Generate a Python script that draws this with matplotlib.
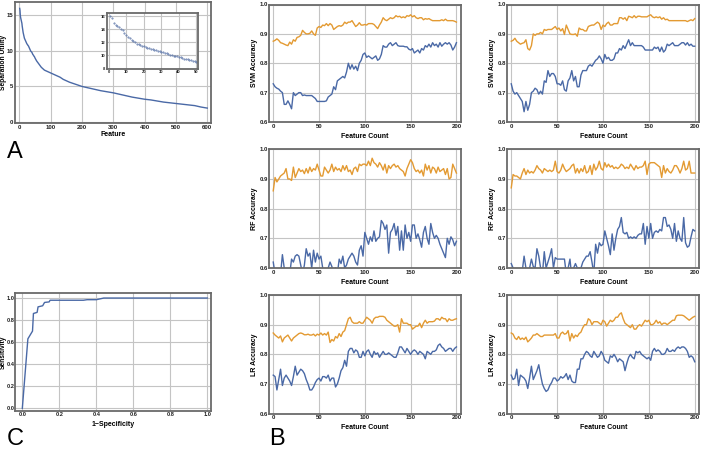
import matplotlib
matplotlib.use("Agg")
import matplotlib.pyplot as plt
import numpy as np

plt.rcParams['font.family'] = ['Liberation Sans', 'DejaVu Sans']

BLUE = "#4a69a6"
ORANGE = "#e39a32"
FRAME = "#6a6a6a"
GRID = "#c4c4c4"

# ---- panel A: separation utility per ranked feature
feat_top = list(range(1, 51))
util_top = [16.0, 15.7, 15.0, 14.7, 14.5, 14.3, 14.1, 13.9, 13.5, 13.2,
            12.9, 12.6, 12.4, 12.2, 12.0, 11.8, 11.7, 11.6, 11.5, 11.4,
            11.3, 11.2, 11.1, 11.0, 10.95, 10.9, 10.8, 10.75, 10.7, 10.6,
            10.5, 10.4, 10.3, 10.2, 10.1, 10.0, 9.95, 9.9, 9.85, 9.8,
            9.7, 9.6, 9.5, 9.45, 9.4, 9.3, 9.25, 9.2, 9.1, 9.0]
feat_rest = [55, 60, 65, 70, 75, 80, 90, 100, 110, 120, 130, 140, 150, 160,
             170, 180, 190, 200, 220, 240, 260, 280, 300, 320, 340, 360, 380,
             400, 420, 440, 460, 480, 500, 520, 540, 560, 580, 600]
util_rest = [8.6, 8.3, 8.0, 7.7, 7.5, 7.3, 7.1, 6.9, 6.7, 6.5, 6.3, 6.0, 5.8,
             5.6, 5.45, 5.3, 5.15, 5.0, 4.8, 4.6, 4.4, 4.25, 4.1, 3.9, 3.7,
             3.5, 3.35, 3.2, 3.1, 2.95, 2.8, 2.7, 2.6, 2.5, 2.4, 2.3, 2.1, 1.95]

# ---- panel C: ROC curve
fpr = [0.0, 0.03, 0.055, 0.06, 0.08, 0.085, 0.11, 0.12, 0.145, 0.15, 0.33,
       0.35, 0.40, 0.44, 1.0]
tpr = [0.0, 0.63, 0.70, 0.86, 0.87, 0.92, 0.93, 0.96, 0.965, 0.98, 0.98,
       0.985, 0.985, 1.0, 1.0]

# ---- panel B: accuracy vs feature count
fcount = list(range(0, 201, 2))

svm1_o = [0.875, 0.878, 0.883, 0.878, 0.87, 0.868, 0.865, 0.862, 0.86, 0.872,
          0.865, 0.88, 0.875, 0.888, 0.89, 0.895, 0.912, 0.905, 0.9, 0.9,
          0.902, 0.91, 0.9, 0.895, 0.92, 0.925, 0.922, 0.93, 0.928, 0.935,
          0.928, 0.935, 0.93, 0.915, 0.92, 0.925, 0.928, 0.926, 0.93, 0.94,
          0.935, 0.94, 0.94, 0.945, 0.935, 0.925, 0.93, 0.938, 0.93, 0.93,
          0.932, 0.93, 0.935, 0.935, 0.935, 0.932, 0.925, 0.918, 0.93, 0.94,
          0.955, 0.948, 0.945, 0.95, 0.955, 0.952, 0.955, 0.962, 0.958, 0.96,
          0.955, 0.958, 0.955, 0.962, 0.96, 0.965, 0.958, 0.962, 0.955, 0.952,
          0.955, 0.955, 0.948, 0.952, 0.95, 0.952, 0.948, 0.945, 0.945, 0.945,
          0.945, 0.945, 0.948, 0.945, 0.95, 0.945, 0.945, 0.945, 0.945, 0.943,
          0.94]
svm1_b = [0.73, 0.72, 0.715, 0.712, 0.705, 0.7, 0.66, 0.66, 0.672, 0.66,
          0.645, 0.7, 0.69, 0.695, 0.7, 0.7, 0.69, 0.692, 0.69, 0.69,
          0.69, 0.69, 0.685, 0.68, 0.67, 0.67, 0.67, 0.67, 0.67, 0.672,
          0.685, 0.69, 0.695, 0.72, 0.71, 0.74, 0.745, 0.75, 0.755, 0.75,
          0.77, 0.8, 0.78, 0.795, 0.78, 0.79, 0.775, 0.8, 0.81, 0.83,
          0.835, 0.82, 0.825, 0.82, 0.815, 0.82, 0.825, 0.81, 0.815, 0.83,
          0.86, 0.855, 0.855, 0.865, 0.87, 0.86, 0.865, 0.87, 0.86, 0.858,
          0.858, 0.858, 0.856, 0.856, 0.848, 0.845, 0.85, 0.835, 0.84, 0.845,
          0.835, 0.85, 0.845, 0.86, 0.855, 0.865, 0.855, 0.87, 0.86, 0.865,
          0.855, 0.87, 0.858, 0.865, 0.87, 0.865, 0.87, 0.862, 0.845, 0.855,
          0.87]
svm2_o = [0.875, 0.878, 0.885, 0.875, 0.87, 0.865, 0.868, 0.87, 0.88, 0.85,
          0.845, 0.86, 0.9, 0.895, 0.9, 0.9, 0.905, 0.9, 0.915, 0.912,
          0.915, 0.915, 0.915, 0.92, 0.925, 0.915, 0.92, 0.91, 0.918, 0.898,
          0.93, 0.915, 0.9, 0.898, 0.898, 0.9, 0.892, 0.92, 0.915, 0.915,
          0.91, 0.91, 0.925, 0.928, 0.93, 0.93, 0.935, 0.94, 0.935, 0.915,
          0.93, 0.925, 0.935, 0.94, 0.93, 0.93, 0.935, 0.935, 0.935, 0.955,
          0.955, 0.95, 0.955, 0.945, 0.96, 0.958, 0.955, 0.962, 0.955, 0.96,
          0.96, 0.958, 0.958, 0.958, 0.958, 0.962, 0.965, 0.958, 0.955, 0.958,
          0.955, 0.958, 0.95, 0.955, 0.948, 0.95, 0.945, 0.945, 0.945, 0.945,
          0.945, 0.945, 0.945, 0.945, 0.945, 0.945, 0.942, 0.945, 0.948, 0.945,
          0.952]
svm2_b = [0.73, 0.705, 0.695, 0.7, 0.69, 0.68, 0.67, 0.635, 0.67, 0.64,
          0.66, 0.7, 0.705, 0.715, 0.71, 0.695, 0.705, 0.695, 0.74, 0.735,
          0.775, 0.755, 0.765, 0.765, 0.755, 0.73, 0.73, 0.725, 0.74, 0.71,
          0.705, 0.74, 0.75, 0.775, 0.74, 0.755, 0.72, 0.72, 0.76, 0.775,
          0.775, 0.775, 0.79, 0.795, 0.79, 0.8, 0.81, 0.815, 0.825, 0.815,
          0.8, 0.83, 0.815, 0.82, 0.81, 0.81, 0.815, 0.835, 0.835, 0.85,
          0.845, 0.86, 0.85, 0.865, 0.88, 0.86, 0.87, 0.86, 0.86, 0.86,
          0.86, 0.86, 0.855, 0.845, 0.845, 0.845, 0.845, 0.845, 0.855, 0.85,
          0.855, 0.84, 0.855, 0.838, 0.845, 0.865, 0.86, 0.865, 0.87, 0.86,
          0.86, 0.86, 0.865, 0.87, 0.87, 0.862, 0.87, 0.86, 0.865, 0.858,
          0.858]
rf1_o = [0.86, 0.905, 0.89, 0.9, 0.91, 0.915, 0.92, 0.935, 0.9, 0.9,
         0.895, 0.94, 0.905, 0.92, 0.935, 0.925, 0.93, 0.918, 0.935, 0.92,
         0.94, 0.925, 0.935, 0.93, 0.95, 0.93, 0.91, 0.91, 0.94, 0.93,
         0.92, 0.93, 0.95, 0.925, 0.94, 0.93, 0.935, 0.925, 0.945, 0.93,
         0.945, 0.925, 0.93, 0.915, 0.935, 0.94, 0.925, 0.95, 0.945, 0.95,
         0.95, 0.945, 0.96, 0.945, 0.97, 0.955, 0.95, 0.94, 0.955, 0.945,
         0.93, 0.95, 0.92, 0.945, 0.935, 0.945, 0.95, 0.94, 0.945, 0.935,
         0.93, 0.925, 0.91, 0.935, 0.95, 0.965, 0.955, 0.935, 0.925, 0.93,
         0.92, 0.93, 0.91, 0.95, 0.93, 0.945, 0.92, 0.94, 0.935, 0.92,
         0.94, 0.925, 0.93, 0.935, 0.915, 0.935, 0.9, 0.905, 0.95, 0.935,
         0.92]
rf1_b = [0.62, 0.58, 0.58, 0.57, 0.58, 0.645, 0.6, 0.57, 0.58, 0.58,
         0.63, 0.62, 0.64, 0.645, 0.64, 0.61, 0.58, 0.61, 0.665, 0.64,
         0.65, 0.6, 0.66, 0.62, 0.65, 0.63, 0.64, 0.6, 0.58, 0.57,
         0.6, 0.62, 0.605, 0.58, 0.6, 0.58, 0.63, 0.615, 0.64, 0.6,
         0.61, 0.63, 0.64, 0.65, 0.64, 0.62, 0.61, 0.66, 0.675, 0.64,
         0.72, 0.7, 0.68, 0.705, 0.69, 0.725, 0.69, 0.7, 0.705, 0.76,
         0.75, 0.73, 0.745, 0.65, 0.72, 0.73, 0.75, 0.71, 0.74, 0.66,
         0.725, 0.66, 0.745, 0.7, 0.72, 0.69, 0.745, 0.745, 0.7, 0.715,
         0.695, 0.67, 0.72, 0.74, 0.7, 0.68, 0.75, 0.72, 0.7, 0.71,
         0.7, 0.68, 0.665, 0.65, 0.635, 0.7, 0.68, 0.705, 0.695, 0.675,
         0.69]
rf2_o = [0.87, 0.915, 0.91, 0.91, 0.905, 0.9, 0.92, 0.935, 0.915, 0.93,
         0.92, 0.925, 0.92, 0.93, 0.945, 0.935, 0.93, 0.92, 0.935, 0.93,
         0.925, 0.93, 0.925, 0.93, 0.96, 0.925, 0.92, 0.93, 0.95, 0.935,
         0.925, 0.93, 0.935, 0.945, 0.95, 0.92, 0.935, 0.92, 0.935, 0.925,
         0.945, 0.92, 0.925, 0.945, 0.915, 0.95, 0.93, 0.94, 0.96, 0.935,
         0.93, 0.955, 0.94, 0.95, 0.94, 0.945, 0.935, 0.94, 0.935, 0.94,
         0.95, 0.945, 0.935, 0.94, 0.935, 0.95, 0.94, 0.93, 0.945, 0.935,
         0.94, 0.94, 0.945, 0.96, 0.915, 0.95, 0.955, 0.955, 0.955, 0.95,
         0.945, 0.94, 0.905, 0.945, 0.92, 0.935, 0.925, 0.92, 0.93, 0.945,
         0.945, 0.935, 0.92, 0.935, 0.96, 0.93, 0.935, 0.96, 0.92, 0.92,
         0.92]
rf2_b = [0.615, 0.6, 0.58, 0.58, 0.57, 0.58, 0.59, 0.64, 0.6, 0.59,
         0.6, 0.63, 0.605, 0.6, 0.665, 0.64, 0.6, 0.58, 0.655, 0.6,
         0.62, 0.64, 0.665, 0.6, 0.635, 0.63, 0.63, 0.63, 0.63, 0.63,
         0.58, 0.6, 0.63, 0.57, 0.6, 0.615, 0.6, 0.6, 0.6, 0.62,
         0.63, 0.64, 0.64, 0.655, 0.62, 0.58, 0.68, 0.65, 0.685, 0.675,
         0.68, 0.725, 0.7, 0.675, 0.645, 0.715, 0.66, 0.7, 0.73, 0.74,
         0.77, 0.72, 0.715, 0.72, 0.7, 0.705, 0.7, 0.705, 0.7, 0.71,
         0.715, 0.715, 0.75, 0.68, 0.74, 0.7, 0.75, 0.7, 0.72, 0.725,
         0.72, 0.73, 0.725, 0.77, 0.77, 0.74, 0.745, 0.73, 0.7, 0.75,
         0.69, 0.725, 0.7, 0.69, 0.77, 0.685, 0.67, 0.675, 0.705, 0.73,
         0.725]
lr1_o = [0.872, 0.865, 0.86, 0.855, 0.862, 0.842, 0.855, 0.86, 0.865, 0.855,
         0.845, 0.855, 0.86, 0.865, 0.87, 0.872, 0.87, 0.866, 0.866, 0.868,
         0.865, 0.865, 0.868, 0.862, 0.868, 0.865, 0.872, 0.865, 0.87, 0.865,
         0.875, 0.84, 0.85, 0.845, 0.86, 0.855, 0.87, 0.86, 0.875, 0.88,
         0.9, 0.92, 0.925, 0.91, 0.905, 0.905, 0.905, 0.91, 0.905, 0.905,
         0.915, 0.925, 0.92, 0.915, 0.905, 0.92, 0.925, 0.925, 0.928, 0.928,
         0.928, 0.925, 0.915, 0.91, 0.905, 0.9, 0.895, 0.895, 0.9, 0.875,
         0.92, 0.905, 0.905, 0.905, 0.9, 0.9, 0.885, 0.89, 0.895, 0.895,
         0.905, 0.89, 0.905, 0.915, 0.905, 0.91, 0.91, 0.91, 0.912, 0.92,
         0.92, 0.915, 0.925, 0.92, 0.92, 0.91, 0.92, 0.915, 0.915, 0.918,
         0.92]
lr1_b = [0.73, 0.725, 0.68, 0.715, 0.75, 0.695, 0.72, 0.73, 0.72, 0.71,
         0.695, 0.725, 0.76, 0.73, 0.74, 0.75, 0.745, 0.735, 0.715, 0.7,
         0.68, 0.68, 0.69, 0.705, 0.715, 0.72, 0.71, 0.725, 0.725, 0.72,
         0.73, 0.71, 0.72, 0.72, 0.69, 0.7, 0.72, 0.745, 0.755, 0.78,
         0.76, 0.81, 0.82, 0.82, 0.805, 0.815, 0.81, 0.79, 0.79, 0.81,
         0.795, 0.81, 0.815, 0.8, 0.79, 0.81, 0.8, 0.805, 0.79, 0.8,
         0.81, 0.8, 0.8, 0.805, 0.8, 0.795, 0.79, 0.79, 0.805, 0.825,
         0.825, 0.815, 0.805, 0.82, 0.81, 0.8, 0.81, 0.815, 0.81, 0.8,
         0.81, 0.805, 0.8, 0.785, 0.81, 0.805, 0.8, 0.81, 0.81, 0.815,
         0.83, 0.835, 0.825, 0.82, 0.81, 0.815, 0.82, 0.82, 0.81, 0.82,
         0.825]
lr2_o = [0.872, 0.868, 0.855, 0.85, 0.86, 0.85, 0.855, 0.85, 0.858, 0.842,
         0.848, 0.855, 0.865, 0.865, 0.87, 0.865, 0.86, 0.86, 0.865, 0.865,
         0.865, 0.865, 0.865, 0.865, 0.87, 0.855, 0.855, 0.87, 0.875, 0.868,
         0.87, 0.88, 0.845, 0.87, 0.855, 0.865, 0.86, 0.87, 0.875, 0.89,
         0.9, 0.9, 0.92, 0.915, 0.9, 0.91, 0.91, 0.91, 0.905, 0.9,
         0.915, 0.91, 0.895, 0.905, 0.915, 0.91, 0.915, 0.925, 0.925, 0.935,
         0.94, 0.92, 0.905, 0.9, 0.895, 0.89, 0.9, 0.885, 0.885, 0.895,
         0.9, 0.895, 0.905, 0.915, 0.91, 0.915, 0.9, 0.9, 0.905, 0.915,
         0.905, 0.91, 0.9, 0.905, 0.905, 0.9, 0.905, 0.91, 0.915, 0.915,
         0.93, 0.932, 0.932, 0.932, 0.93, 0.925, 0.92, 0.915, 0.92, 0.925,
         0.928]
lr2_b = [0.73, 0.715, 0.72, 0.75, 0.695, 0.73, 0.725, 0.72, 0.71, 0.685,
         0.72, 0.76, 0.715, 0.73, 0.745, 0.765, 0.73, 0.7, 0.685, 0.675,
         0.68, 0.695, 0.705, 0.72, 0.72, 0.71, 0.715, 0.725, 0.72, 0.725,
         0.735, 0.715, 0.73, 0.71, 0.705, 0.705, 0.75, 0.75, 0.785, 0.785,
         0.8, 0.81, 0.805, 0.795, 0.79, 0.81, 0.8, 0.79, 0.795, 0.81,
         0.8, 0.78, 0.775, 0.77, 0.795, 0.79, 0.8, 0.79, 0.775, 0.785,
         0.78, 0.775, 0.745, 0.77, 0.79, 0.8, 0.79, 0.785, 0.81, 0.805,
         0.81, 0.8, 0.795, 0.79, 0.785, 0.79, 0.78, 0.81, 0.82, 0.81,
         0.815, 0.81, 0.8, 0.8, 0.805, 0.82, 0.81, 0.81, 0.815, 0.81,
         0.82, 0.825, 0.82, 0.825, 0.825, 0.82, 0.81, 0.79, 0.795, 0.79,
         0.775]

W, H = 701, 449
fig = plt.figure(figsize=(W / 100, H / 100), dpi=100)


def box(l, t, r, b):
    # pixel box -> figure fraction
    return [l / W, 1 - b / H, (r - l) / W, (b - t) / H]


def style(ax, fs=4.3, pad=1.2):
    ax.set_axisbelow(True)
    ax.grid(True, color=GRID, linewidth=0.8)
    for s in ax.spines.values():
        s.set_color(FRAME)
        s.set_linewidth(1.3)
    ax.tick_params(length=0, pad=pad, labelsize=fs, colors="#222222")
    for lab in ax.get_xticklabels() + ax.get_yticklabels():
        lab.set_fontweight("bold")


def labels(ax, xl, yl, ypix, xpix_bottom, fs=5):
    # place axis labels at given pixel spots
    ax.set_xlabel(xl, fontsize=5, fontweight="bold")
    ax.set_ylabel(yl, fontsize=fs, fontweight="bold")
    pos = ax.get_position()
    ax.yaxis.set_label_coords(ypix / W, (pos.y0 + pos.y1) / 2,
                              transform=fig.transFigure)
    ax.yaxis.label.set_verticalalignment("center")
    ax.xaxis.set_label_coords((pos.x0 + pos.x1) / 2, 1 - xpix_bottom / H,
                              transform=fig.transFigure)
    ax.xaxis.label.set_verticalalignment("center")


# panel A
axA = fig.add_axes(box(15, 2, 211, 123))
axA.plot(feat_top + feat_rest, util_top + util_rest, color=BLUE, lw=1)
axA.set_xlim(-14, 612)
axA.set_ylim(-0.15, 16.9)
axA.set_xticks(range(0, 601, 100))
axA.set_yticks([0, 5, 10, 15])
style(axA)
labels(axA, "Feature", "Separation Utility", 3.3, 134.5, fs=4.8)

axI = fig.add_axes(box(107, 13, 198, 68.5))
axI.plot(feat_top, util_top, ".", color="#5a74a8", ms=0.9)
axI.set_xlim(-1, 51)
axI.set_ylim(8, 16.5)
axI.set_xticks(range(0, 51, 10))
axI.set_yticks([8, 10, 12, 14, 16])
style(axI, fs=3)

# panel C
axC = fig.add_axes(box(15.3, 293.3, 210.7, 410.7))
axC.plot(fpr, tpr, color=BLUE, lw=1)
axC.set_xlim(-0.038, 1.018)
axC.set_ylim(-0.022, 1.043)
ticks = [0.0, 0.2, 0.4, 0.6, 0.8, 1.0]
axC.set_xticks(ticks)
axC.set_yticks(ticks)
axC.set_xticklabels(["%.1f" % v for v in ticks])
axC.set_yticklabels(["%.1f" % v for v in ticks])
style(axC, fs=4.1, pad=0.8)
labels(axC, "1\u2212Specificity", "Sensitivity", 3.0, 424, fs=4.8)

# panel B grid
cols = [(269.3, 461, 255), (507.3, 699.3, 492)]
rows = [(4.5, 122), (149.3, 268), (295, 413.7)]
series = [[(svm1_o, svm1_b), (svm2_o, svm2_b)],
          [(rf1_o, rf1_b), (rf2_o, rf2_b)],
          [(lr1_o, lr1_b), (lr2_o, lr2_b)]]
names = ["SVM Accuracy", "RF Accuracy", "LR Accuracy"]
yt = [0.6, 0.7, 0.8, 0.9, 1.0]
for i, (t, b) in enumerate(rows):
    for j, (l, r, ylx) in enumerate(cols):
        ax = fig.add_axes(box(l, t, r, b))
        o, bl = series[i][j]
        ax.plot(fcount, o, color=ORANGE, lw=1)
        ax.plot(fcount, bl, color=BLUE, lw=1)
        ax.set_xlim(-4.3, 205)
        ax.set_ylim(0.6, 1.0)
        ax.set_xticks(range(0, 201, 50))
        ax.set_yticks(yt)
        ax.set_yticklabels(["%.1f" % v for v in yt])
        style(ax)
        labels(ax, "Feature Count", names[i], ylx, b + 14)

fig.text(7 / W, 1 - 152 / H, "A", fontsize=17, va="center", ha="left")
fig.text(7 / W, 1 - 439 / H, "C", fontsize=17, va="center", ha="left")
fig.text(269 / W, 1 - 439 / H, "B", fontsize=17, va="center", ha="left")

fig.savefig("out.png", dpi=100)
